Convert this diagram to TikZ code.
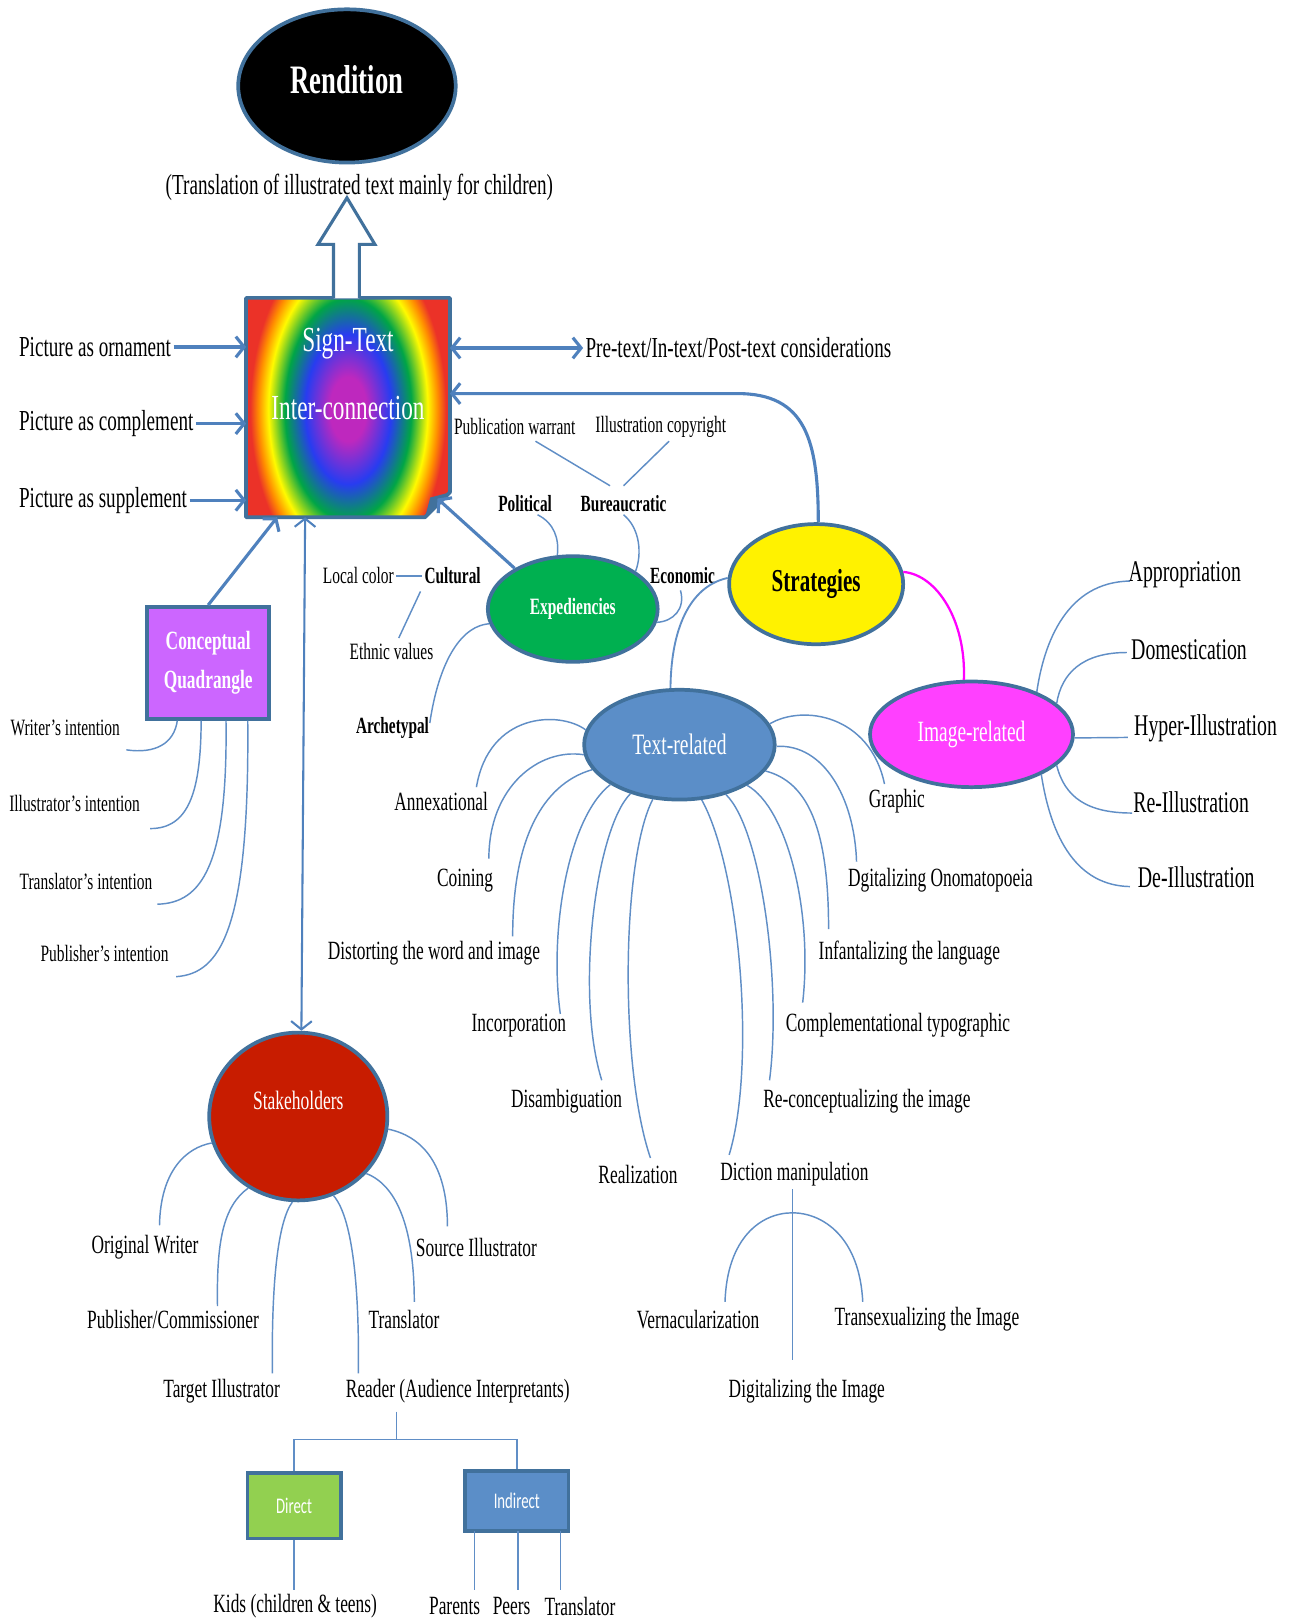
\documentclass[tikz,border=0pt]{standalone}
\usepackage{fontspec}
\setmainfont{Liberation Serif}[FakeStretch=0.66]
\newfontfamily\calfont{Carlito}[FakeStretch=0.66]
\usetikzlibrary{shapes.geometric,arrows.meta,calc}
\definecolor{bcol}{RGB}{65,113,156}
\definecolor{acol}{RGB}{79,129,189}
\definecolor{lcol}{RGB}{96,142,198}
\definecolor{expg}{RGB}{0,176,80}
\definecolor{tcol}{RGB}{91,142,200}
\definecolor{icol}{RGB}{255,64,255}
\definecolor{scol}{RGB}{200,28,0}
\definecolor{qcol}{RGB}{204,102,255}
\definecolor{dcol}{RGB}{146,208,80}
\definecolor{magl}{RGB}{255,0,255}
\definecolor{rbmag}{RGB}{190,40,190}
\definecolor{rbblue}{RGB}{40,60,240}
\definecolor{rbgreen}{RGB}{0,165,70}
\definecolor{rbyel}{RGB}{255,250,0}
\definecolor{rborange}{RGB}{255,140,0}
\definecolor{rbred}{RGB}{235,50,40}
\pgfdeclareradialshading{rainbow}{\pgfpoint{0bp}{0bp}}{color(0bp)=(rbmag); color(4.5bp)=(rbmag); color(10.5bp)=(rbblue); color(15.5bp)=(rbgreen); color(19.5bp)=(rbyel); color(22bp)=(rborange); color(24bp)=(rbred); color(50bp)=(rbred)}
\tikzset{
  ell/.style={ellipse, draw=bcol, line width=1.8pt, inner sep=0pt},
  boxn/.style={rectangle, draw=bcol, line width=1.8pt, inner sep=0pt},
  lab/.style={inner sep=1pt, font=\fontsize{14}{16}\selectfont},
  lbig/.style={inner sep=1pt, font=\fontsize{14.5}{16}\selectfont},
  lmid/.style={inner sep=1pt, font=\fontsize{12.7}{15}\selectfont},
  lsm/.style={inner sep=1pt, font=\fontsize{11.3}{13}\selectfont},
  lbold/.style={inner sep=1pt, font=\bfseries\fontsize{11.2}{13}\selectfont},
  arr/.style={draw=acol, line width=1.5pt, -{Straight Barb[length=4pt,width=10pt]}},
  darr/.style={draw=acol, {Straight Barb[length=4pt,width=10pt]}-{Straight Barb[length=4pt,width=10pt]}},
  con/.style={draw=lcol, line width=0.7pt},
}
\begin{document}
\begin{tikzpicture}[x=0.5pt,y=-0.5pt]
\useasboundingbox (0,0) rectangle (1246,1568);
\fill[white] (0,0) rectangle (1246,1568);

% Rendition
\node[ell, fill=black, minimum width=105pt, minimum height=74pt,
  label={[text=white, font=\bfseries\fontsize{19.5}{20}\selectfont, yshift=3pt]center:Rendition}] (rend) at (335,83) {};
\node[lab] (trans) at (347,181) {(Translation of illustrated text mainly for children)};

% Sign-Text box
\node[minimum width=98pt, minimum height=105.5pt, inner sep=0pt] (st) at (336,393.5) {};
\begin{scope}
\clip (st.north west) -- (st.north east) -- ($(st.south east)+(0,-24)$) -- ($(st.south east)+(-24,0)$) -- (st.south west) -- cycle;
\begin{scope}[transform canvas={shift={(336,395)}, yscale=1.75}]
\shade[shading=rainbow] (-98.5,-98.5) rectangle (98.5,98.5);
\end{scope}
\end{scope}
\draw[bcol, line width=1.8pt, line join=round] (st.north west) -- (st.north east) -- ($(st.south east)+(0,-24)$) -- ($(st.south east)+(-24,0)$) -- (st.south west) -- cycle;
\fill[bcol] ($(st.south east)+(0,-24)$) -- ($(st.south east)+(-24,0)$) -- ($(st.south east)+(-19,-19)$) -- cycle;
\node[text=white, align=center, font=\fontsize{17}{33}\selectfont] (sttxt) at (336,361) {Sign-Text\\Inter-connection};

% hollow arrow up
\draw[bcol, line width=1.5pt, fill=white, line join=miter] (322,288) -- (322,236) -- (307,236) -- (335,191) -- (362,236) -- (347,236) -- (347,288);

% left inputs
\node[lab, anchor=west] (orn) at (16,335) {Picture as ornament};
\node[lab, anchor=west] (comp) at (16,409) {Picture as complement};
\node[lab, anchor=west] (supp) at (16,483) {Picture as supplement};
\draw[arr] (orn.east) -- (orn.east -| st.west);
\draw[arr] (comp.east) -- (comp.east -| st.west);
\draw[arr] (supp.east) -- (supp.east -| st.west);

% pre-text
\node[lab, anchor=west] (pre) at (563,336) {Pre-text/In-text/Post-text considerations};
\draw[darr, line width=1.5pt] (pre.west -| st.east) -- (pre.west);

% Strategies
\node[ell, fill=yellow, minimum width=84pt, minimum height=58pt, font=\bfseries\fontsize{15.4}{17}\selectfont] (strat) at (788,564) {Strategies};
\coordinate (h380) at (712,380);
\draw[arr] (strat.88) .. controls (790,425) and (778,380) .. (h380) -- (h380 -| st.east);

% Expediencies
\node[ell, fill=expg, minimum width=82pt, minimum height=51pt, text=white, font=\bfseries\fontsize{11.3}{13}\selectfont] (exp) at (553,588) {Expediencies};
\draw[arr] (exp.145) -- ($(st.south east)+(-12,-18)$);

\node[lsm] (pw) at (497,412) {Publication warrant};
\node[lsm] (ic) at (638,412) {Illustration copyright};
\node[lbold] (pol) at (507,486) {Political};
\node[lbold] (bur) at (602,486) {Bureaucratic};
\draw[con] (517,426) -- (589,469);
\draw[con] (646,426) -- (602,469);
\draw[con] (519,497) .. controls (535,505) and (540,520) .. (exp.106);
\draw[con] (602,497) .. controls (618,510) and (620,535) .. (exp.31);
\node[lbold] (eco) at (659,556) {Economic};
\draw[con] (657,570) .. controls (662,588) and (650,600) .. (exp.-9);
\node[lbold] (cul) at (437,556) {Cultural};
\node[lsm] (loc) at (346,556) {Local color};
\draw[con] (loc.east) -- (cul.west);
\node[lsm] (eth) at (378,629) {Ethnic values};
\draw[con] (406,571) -- (385,616);
\node[lbold] (arch) at (379,703) {Archetypal};
\draw[con] (415,698) .. controls (422,650) and (440,605) .. (exp.190);

% Text-related / Image-related
\node[ell, fill=tcol, minimum width=92pt, minimum height=53pt, text=white, font=\fontsize{14.3}{16}\selectfont] (tr) at (656,719) {Text-related};
\node[ell, fill=icol, minimum width=98pt, minimum height=51pt, text=white, font=\fontsize{14.2}{16}\selectfont] (ir) at (938,709) {Image-related};
\draw[magl, line width=1.1pt] (strat.8) .. controls (905,555) and (933,600) .. (ir.98);
\draw[con, line width=0.9pt] (strat.176) .. controls (670,565) and (648,600) .. (tr.99);

\node[lmid] (annex) at (426,774) {Annexational};
\node[lmid] (coin) at (449,850) {Coining};
\node[lmid] (dist) at (419,920) {Distorting the word and image};
\node[lmid] (inc) at (501,990) {Incorporation};
\node[lmid] (dis) at (547,1063) {Disambiguation};
\node[lmid] (real) at (616,1134) {Realization};
\node[lmid] (gra) at (866,774) {Graphic};
\node[lmid] (dgo) at (908,850) {Dgitalizing Onomatopoeia};
\node[lmid] (inf) at (878,920) {Infantalizing the language};
\node[lmid] (cmp) at (867,990) {Complementational typographic};
\node[lmid] (rec) at (837,1063) {Re-conceptualizing the image};
\node[lmid] (dic) at (767,1134) {Diction manipulation};
\draw[con] (tr.171) .. controls (540,686) and (472,688) .. (460,760);
\draw[con] (tr.186) .. controls (520,722) and (472,760) .. (472,829);
\draw[con] (tr.196) .. controls (530,755) and (495,800) .. (495,904);
\draw[con] (tr.210) .. controls (548,790) and (530,900) .. (541,979);
\draw[con] (tr.225) .. controls (575,800) and (555,960) .. (581,1043);
\draw[con] (tr.244) .. controls (600,830) and (598,1030) .. (628,1118);
\draw[con] (tr.13) .. controls (775,680) and (840,690) .. (854,757);
\draw[con] (tr.-1) .. controls (795,718) and (825,770) .. (827,832);
\draw[con] (tr.-17) .. controls (780,755) and (800,800) .. (800,897);
\draw[con] (tr.-31) .. controls (760,780) and (785,880) .. (775,968);
\draw[con] (tr.-47) .. controls (735,800) and (755,950) .. (743,1043);
\draw[con] (tr.-68) .. controls (715,840) and (730,1030) .. (704,1115);

\node[lbig] (app) at (1144,555) {Appropriation};
\node[lbig] (dom) at (1148,627) {Domestication};
\node[lbig] (hyp) at (1164,703) {Hyper-Illustration};
\node[lbig] (reil) at (1150,775) {Re-Illustration};
\node[lbig] (deil) at (1155,847) {De-Illustration};
\draw[con] (ir.33) .. controls (1008,620) and (1030,562) .. (1091,561);
\draw[con] (ir.20) .. controls (1025,650) and (1045,630) .. (1088,630);
\draw[con] (ir.-2) -- (1089,712);
\draw[con] (ir.-20) .. controls (1028,770) and (1050,785) .. (1093,785);
\draw[con] (ir.-30) .. controls (1015,810) and (1040,855) .. (1091,856);

% Diction subtree
\node[lmid] (ver) at (674,1274) {Vernacularization};
\node[lmid] (trx) at (895,1274) {Transexualizing the Image};
\node[lmid] (dig) at (779,1343) {Digitalizing the Image};
\draw[con] (765,1148) -- (765,1313);
\draw[con] (700,1257) .. controls (702,1195) and (735,1171) .. (765,1171) .. controls (795,1171) and (830,1195) .. (833,1257);

% Conceptual Quadrangle
\node[boxn, fill=qcol, minimum width=59pt, minimum height=54pt, text=white, align=center, font=\bfseries\fontsize{12.7}{19}\selectfont] (cq) at (201,640) {Conceptual\\Quadrangle};
\draw[arr] (cq.north) -- ($(st.south west)+(30,0)$);
\node[lsm] (wi) at (63,703) {Writer’s intention};
\node[lsm] (ii) at (72,776) {Illustrator’s intention};
\node[lsm] (ti) at (83,851) {Translator’s intention};
\node[lsm] (pi) at (101,921) {Publisher’s intention};
\draw[con] ($(cq.south west)+(31,0)$) .. controls (168,718) and (150,728) .. (122,724);
\draw[con] ($(cq.south west)+(54,0)$) .. controls (194,765) and (182,800) .. (145,800);
\draw[con] ($(cq.south west)+(78,0)$) .. controls (220,835) and (195,872) .. (152,873);
\draw[con] ($(cq.south west)+(99,0)$) .. controls (241,900) and (212,940) .. (170,943);

% Stakeholders
\node[ell, fill=scol, minimum width=86pt, minimum height=81pt,
  label={[text=white, font=\fontsize{12.8}{15}\selectfont, yshift=8pt]center:Stakeholders}] (stk) at (288,1078) {};
\draw[darr, line width=1pt] ($(st.south west)+(57,0)$) -- ($(stk.north)+(3,0)$);
\node[lmid] (ow) at (140,1204) {Original Writer};
\node[lmid] (pc) at (167,1274) {Publisher/Commissioner};
\node[lmid] (tgt) at (214,1343) {Target Illustrator};
\node[lmid] (rd) at (442,1343) {Reader (Audience Interpretants)};
\node[lmid] (tsl) at (390,1274) {Translator};
\node[lmid] (si) at (460,1204) {Source Illustrator};
\draw[con] (stk.197) .. controls (180,1108) and (155,1130) .. (154,1183);
\draw[con] (stk.235) .. controls (215,1165) and (209,1200) .. (210,1261);
\draw[con] (stk.266) .. controls (268,1180) and (262,1240) .. (263,1326);
\draw[con] (stk.294) .. controls (340,1175) and (347,1240) .. (346,1326);
\draw[con] (stk.320) .. controls (385,1145) and (400,1190) .. (400,1257);
\draw[con] (stk.352) .. controls (412,1098) and (432,1130) .. (432,1184);

% Reader tree
\node[boxn, fill=dcol, minimum width=45pt, minimum height=31.5pt, text=white, font=\calfont\fontsize{10.8}{12}\selectfont] (dir) at (284,1454) {Direct};
\node[boxn, fill=tcol, minimum width=50pt, minimum height=29pt, text=white, font=\calfont\fontsize{10.8}{12}\selectfont] (ind) at (499,1449) {Indirect};
\coordinate (rj) at (383,1390);
\draw[con] (383,1363) -- (rj);
\draw[con] (dir.north) -- (dir.north |- rj) -- (ind.north |- rj) -- (ind.north);
\node[lmid] (kids) at (285,1551) {Kids (children \& teens)};
\node[lmid] (par) at (439,1551) {Parents};
\node[lmid] (pee) at (494,1551) {Peers};
\node[lmid] (tr3) at (560,1551) {Translator};
\draw[con] (dir.south) -- (284,1535);
\draw[con] (458,1478) -- (458,1535);
\draw[con] (500,1478) -- (500,1535);
\draw[con] (541,1478) -- (541,1535);
\end{tikzpicture}
\end{document}
